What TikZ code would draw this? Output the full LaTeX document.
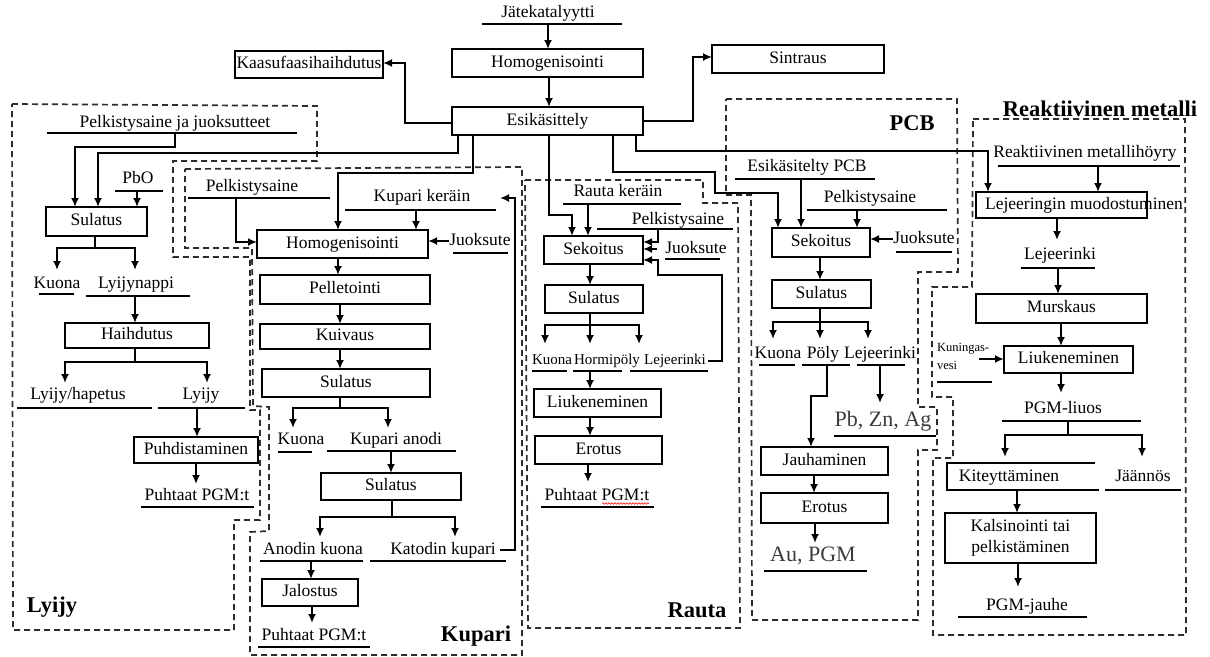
\documentclass[tikz,border=0pt]{standalone}
\usepackage{fontspec}
\setmainfont{Liberation Serif}
\usetikzlibrary{arrows.meta,decorations.pathmorphing}
\newcommand{\mainfs}{\fontsize{17.5}{20}\selectfont}
\definecolor{gtxt}{RGB}{60,60,60}
\definecolor{dashc}{RGB}{45,45,45}
\begin{document}
\begin{tikzpicture}[x=1pt,y=-1pt,
  every node/.style={inner sep=0pt, outer sep=0pt, font=\mainfs},
  box/.style args={#1x#2}{draw, line width=1.8pt, minimum width=#1pt, minimum height=#2pt, text height=12pt, text depth=3.5pt},
  mbox/.style args={#1x#2}{draw, line width=1.8pt, minimum width=#1pt, minimum height=#2pt, align=center, font=\fontsize{17.5}{21}\selectfont},
  ul/.style={fill=black, minimum width=#1pt, minimum height=2.5pt},
  lbl/.style={text height=12pt, text depth=3.5pt},
  smalllbl/.style={font=\fontsize{15}{17}\selectfont, text height=10.5pt, text depth=3pt},
  tinylbl/.style={font=\fontsize{12.5}{18}\selectfont},
  biglbl/.style={font=\fontsize{22}{26}\selectfont, text=gtxt},
  titlelbl/.style={font=\fontsize{22.5}{26}\selectfont\bfseries},
  arr/.style={draw, line width=2.2pt, -{Latex[length=9pt,width=8pt]}},
  ln/.style={draw, line width=2.2pt},
  region/.style={draw=dashc, line width=1.7pt, dash pattern=on 6pt off 4pt}]

\fill[white] (0,0) rectangle (1210,656);
\useasboundingbox (0,0) rectangle (1210,656);

% ---------- dashed regions ----------
\draw[region] (12,104) -- (317,106) -- (317,161) -- (173,161) -- (173,257) -- (250,257) -- (250,410) -- (260,410) -- (260,520) -- (234,520) -- (234,630) -- (13,630) -- cycle;
\draw[region] (185,169) -- (522,167) -- (522,655) -- (250,655) -- (250,532) -- (269,531) -- (269,407) -- (253,406) -- (252,248) -- (185,248) -- cycle;
\draw[region] (525,180) -- (703,180) -- (703,203) -- (738,203) -- (740,628) -- (528,628) -- cycle;
\draw[region] (726,99) -- (957,99) -- (958,272) -- (918,272) -- (918,407) -- (937,407) -- (937,450) -- (918,450) -- (918,620) -- (752,620) -- (751,195) -- (726,195) -- cycle;
\draw[region] (973,119) -- (1185,119) -- (1186,635) -- (933,635) -- (933,458) -- (953,458) -- (953,397) -- (932,397) -- (932,287) -- (972,287) -- cycle;

% ---------- top ----------
\node[lbl] (jate) at (548,13) {Jätekatalyytti};
\node[ul=140] (uJate) at (552,24) {};
\node[box=191x28] (hom0) at (547.5,63) {Homogenisointi};
\node[box=191x28] (esi) at (547.5,121) {Esikäsittely};
\node[box=148x27] (kaasu) at (309,64.5) {Kaasufaasihaihdutus};
\node[box=172x28] (sint) at (798,59) {Sintraus};

\draw[arr] (uJate.south -| 548,0) -- (hom0.north -| 548,0);
\draw[arr] (hom0.south -| 549,0) -- (esi.north -| 549,0);
\draw[arr] (esi.west |- 0,123) -| (405,63) -- (kaasu.east |- 0,63);
\draw[arr] (esi.east |- 0,121) -| (693,57) -- (sint.west |- 0,57);

% ---------- Lyijy ----------
\node[lbl] (lPja) at (175,123) {Pelkistysaine ja juoksutteet};
\node[ul=250] (ulPja) at (172,133) {};
\node[lbl] (lPbO) at (138,179) {PbO};
\node[ul=48] (ulPbO) at (139,191) {};
\node[box=101x29] (lsul) at (96.5,221.5) {Sulatus};
\node[lbl] (lKu) at (57,284) {Kuona};
\node[ul=35] (ulKu) at (56.5,294) {};
\node[lbl] (lLn) at (136,284) {Lyijynappi};
\node[ul=104] (ulLn) at (138,296) {};
\node[box=144x25] (lhai) at (137,335.5) {Haihdutus};
\node[lbl] (lLh) at (78,395) {Lyijy/hapetus};
\node[ul=135] (ulLh) at (84.5,408) {};
\node[lbl] (lLy) at (201,395) {Lyijy};
\node[ul=87] (ulLy) at (201.5,408) {};
\node[box=124x26] (lpuh) at (196,450) {Puhdistaminen};
\node[lbl] (lPu) at (197,496) {Puhtaat PGM:t};
\node[ul=113] (ulPu) at (197.5,507) {};
\node[titlelbl] (tLy) at (52,607) {Lyijy};

\draw[arr] (esi.south -| 458,0) |- (98,153) -- (lsul.north -| 98,0);
\draw[arr] (ulPja.south -| 175,0) |- (75,147) -- (lsul.north -| 75,0);
\draw[arr] (ulPbO.south -| 137,0) -- (lsul.north -| 137,0);
\draw[ln] (lsul.south -| 95,0) -- (95,248);
\draw[arr] (95,248) -| (57,270);
\draw[arr] (95,248) -| (135,270);
\draw[arr] (ulLn.south -| 135,0) -- (lhai.north -| 135,0);
\draw[ln] (lhai.south -| 135,0) -- (135,362);
\draw[arr] (135,362) -| (65,383);
\draw[arr] (135,362) -| (207,383);
\draw[arr] (ulLy.south -| 197,0) -- (lpuh.north -| 197,0);
\draw[arr] (lpuh.south -| 196,0) -- (196,484);

% ---------- Kupari ----------
\node[lbl] (kPe) at (252,187) {Pelkistysaine};
\node[ul=142] (ulkPe) at (259,198) {};
\node[lbl] (kKk) at (422,197) {Kupari keräin};
\node[ul=151] (ulkKk) at (420.5,210) {};
\node[box=171x28] (khom) at (342.5,244) {Homogenisointi};
\node[lbl] (kJu) at (480,241) {Juoksute};
\node[ul=55] (ulkJu) at (480.5,253) {};
\node[box=170x29] (kpel) at (345,289.5) {Pelletointi};
\node[box=170x25] (kkui) at (345,336.5) {Kuivaus};
\node[box=168x28] (ksul) at (346,383) {Sulatus};
\node[lbl] (kKu) at (301,440) {Kuona};
\node[ul=34] (ulkKu) at (295,452) {};
\node[lbl] (kKa) at (396,440) {Kupari anodi};
\node[ul=129] (ulkKa) at (391.5,451) {};
\node[box=140x27] (ksul2) at (391,486.5) {Sulatus};
\node[lbl] (kAk) at (313,550) {Anodin kuona};
\node[ul=103] (ulkAk) at (311.5,561) {};
\node[lbl] (kKt) at (443,550) {Katodin kupari};
\node[ul=136] (ulkKt) at (438,561) {};
\node[box=96x27] (kjal) at (310,592.5) {Jalostus};
\node[lbl] (kPu) at (314,636) {Puhtaat PGM:t};
\node[ul=112] (ulkPu) at (314,647) {};
\node[titlelbl] (tKu) at (476,636) {Kupari};

\draw[arr] (esi.south -| 473,0) |- (338,173) -- (khom.north -| 338,0);
\draw[arr] (ulkPe.south -| 236,0) |- (khom.west |- 0,242);
\draw[arr] (ulkKk.south -| 416,0) -- (khom.north -| 416,0);
\draw[arr] (kJu.west) -- (khom.east |- kJu.west);
\draw[arr] (khom.south -| 338,0) -- (kpel.north -| 338,0);
\draw[arr] (kpel.south -| 340,0) -- (kkui.north -| 340,0);
\draw[arr] (kkui.south -| 340,0) -- (ksul.north -| 340,0);
\draw[ln] (ksul.south -| 340,0) -- (340,408);
\draw[arr] (340,408) -| (293,428);
\draw[arr] (340,408) -| (388,428);
\draw[arr] (ulkKa.south -| 391,0) -- (ksul2.north -| 391,0);
\draw[ln] (ksul2.south -| 392,0) -- (392,517);
\draw[arr] (392,517) -| (320,537);
\draw[arr] (392,517) -| (455,537);
\draw[arr] ([xshift=4pt]kKt.east) -| (515,198) -- (500,198);
\draw[arr] (ulkAk.south -| 311,0) -- (kjal.north -| 311,0);
\draw[arr] (kjal.south -| 312,0) -- (312,623);

% ---------- Rauta ----------
\node[lbl] (rRk) at (618,192) {Rauta keräin};
\node[ul=118] (ulrRk) at (622,204) {};
\node[lbl] (rPe) at (678,220) {Pelkistysaine};
\node[ul=136] (ulrPe) at (665,229) {};
\node[lbl] (rJu) at (696,249) {Juoksute};
\node[ul=55] (ulrJu) at (692.5,259) {};
\node[box=99x28] (rsek) at (593.5,250) {Sekoitus};
\node[box=98x28] (rsul) at (594,299) {Sulatus};
\node[smalllbl] (rKu) at (552,361) {Kuona};
\node[ul=35] (ulrKu) at (549.5,371) {};
\node[smalllbl] (rHo) at (607,361) {Hormipöly};
\node[ul=49] (ulrHo) at (597.5,371) {};
\node[smalllbl] (rLe) at (675,361) {Lejeerinki};
\node[ul=78] (ulrLe) at (669,371) {};
\node[box=127x28] (rliu) at (597.5,403) {Liukeneminen};
\node[box=127x28] (rero) at (598.5,450) {Erotus};
\node[lbl] (rPu) at (597,496) {Puhtaat PGM:t};
\node[ul=113] (ulrPu) at (597.5,507) {};
\node[titlelbl] (tRa) at (697,610) {Rauta};

\draw[arr] (esi.south -| 549,0) |- (572,215) -- (rsek.north -| 572,0);
\draw[arr] (ulrRk.south -| 588,0) -- (rsek.north -| 588,0);
\draw[arr] (ulrPe.south -| 658,0) |- (rsek.east |- 0,242);
\draw[arr] ([xshift=-8pt]rJu.west) -- (rsek.east |- rJu.west);
\draw[arr] ([xshift=2pt]rLe.east) -| (722,275) -| (658,260) -- (rsek.east |- 0,260);
\draw[arr] (rsek.south -| 590,0) -- (rsul.north -| 590,0);
\draw[ln] (rsul.south -| 590,0) -- (590,325);
\draw[arr] (590,325) -| (545,344);
\draw[arr] (590,325) -- (590,344);
\draw[arr] (590,325) -| (639,344);
\draw[arr] (ulrHo.south -| 590,0) -- (rliu.north -| 590,0);
\draw[arr] (rliu.south -| 590,0) -- (rero.north -| 590,0);
\draw[arr] (rero.south -| 588,0) -- (588,482);
\draw[red, line width=0.6pt, decorate, decoration={snake, amplitude=0.8pt, segment length=3pt}] (602,503.5) -- (649,503.5);

% ---------- PCB ----------
\node[titlelbl] (tPCB) at (912,123) {PCB};
\node[lbl] (pEs) at (807,167) {Esikäsitelty PCB};
\node[ul=140] (ulpEs) at (805,179) {};
\node[lbl] (pPe) at (870,198) {Pelkistysaine};
\node[ul=140] (ulpPe) at (877,210) {};
\node[box=98x29] (psek) at (821,242.5) {Sekoitus};
\node[lbl] (pJu) at (924,239) {Juoksute};
\node[ul=56] (ulpJu) at (924,252) {};
\node[box=99x28] (psul) at (821.5,294) {Sulatus};
\node[lbl] (pKu) at (778,354) {Kuona};
\node[ul=36] (ulpKu) at (777,365) {};
\node[lbl] (pPo) at (823,354) {Pöly};
\node[ul=48] (ulpPo) at (826,365) {};
\node[lbl] (pLe) at (880,354) {Lejeerinki};
\node[ul=48] (ulpLe) at (881,365) {};
\node[biglbl] (pPb) at (883,421) {Pb, Zn, Ag};
\node[ul=102] (ulpPb) at (885,436) {};
\node[box=127x28] (pjau) at (824.5,461) {Jauhaminen};
\node[box=127x30] (pero) at (824.5,508) {Erotus};
\node[biglbl] (pAu) at (813,556) {Au, PGM};
\node[ul=103] (ulpAu) at (815.5,571) {};

\draw[arr] (esi.south -| 613,0) |- (715,172) |- (778,193) -- (psek.north -| 778,0);
\draw[arr] (ulpEs.south -| 801,0) -- (psek.north -| 801,0);
\draw[arr] (ulpPe.south -| 857,0) -- (psek.north -| 857,0);
\draw[arr] (pJu.west) -- (psek.east |- pJu.west);
\draw[arr] (psek.south -| 820,0) -- (psul.north -| 820,0);
\draw[ln] (psul.south -| 820,0) -- (820,322);
\draw[arr] (820,322) -| (773,339);
\draw[arr] (820,322) -- (820,339);
\draw[arr] (820,322) -| (868,339);
\draw[arr] (ulpPo.south -| 827,0) |- (811,396) -- (pjau.north -| 811,0);
\draw[arr] (ulpLe.south -| 880,0) -- (880,403);
\draw[arr] (pjau.south -| 814,0) -- (pero.north -| 814,0);
\draw[arr] (pero.south -| 815,0) -- (815,543);

% ---------- Reaktiivinen metalli ----------
\node[titlelbl] (tRe) at (1100,109) {Reaktiivinen metalli};
\node[lbl] (eRm) at (1085,153) {Reaktiivinen metallihöyry};
\node[ul=182] (uleRm) at (1089,166) {};
\node[box=171x26] (rlejb) at (1061.5,205) {};
\node[lbl] (eLm) at (1084,205) {Lejeeringin muodostuminen};
\node[lbl] (eLe) at (1060,255) {Lejeerinki};
\node[ul=74] (uleLe) at (1058,268) {};
\node[box=171x29] (rmur) at (1061.5,308.5) {Murskaus};
\node[box=129x27] (rliu2) at (1068.5,359.5) {Liukeneminen};
\node[tinylbl, align=left, anchor=west] (eKv) at (937,356) {Kuningas-\\vesi};
\node[ul=55] (uleKv) at (964.5,382) {};
\coordinate (kvStart) at (979,359);
\node[lbl] (ePl) at (1063,409) {PGM-liuos};
\node[ul=139] (ulePl) at (1071.5,421) {};
\node[lbl] (eKi) at (1009,477) {Kiteyttäminen};
\node[lbl] (eJa) at (1143,477) {Jäännös};
\node[ul=76] (uleJa) at (1143,490) {};
\node[mbox=151x50] (rkal) at (1020.5,538) {Kalsinointi tai\\pelkistäminen};
\node[lbl] (ePj) at (1027,606) {PGM-jauhe};
\node[ul=129] (ulePj) at (1022.5,617) {};

\draw[line width=1.6pt] (1095,463) -- (947,463) -- (947,490);
\draw[line width=2.5pt] (946.2,490) -- (1099,490);

\draw[arr] (esi.south -| 636,0) |- (988,151) -- (rlejb.north -| 988,0);
\draw[arr] (uleRm.south -| 1098,0) -- (rlejb.north -| 1098,0);
\draw[arr] (rlejb.south -| 1057,0) -- (1057,240);
\draw[arr] (uleLe.south -| 1058,0) -- (rmur.north -| 1058,0);
\draw[arr] (rmur.south -| 1061,0) -- (rliu2.north -| 1061,0);
\draw[arr] (kvStart) -- (rliu2.west |- kvStart);
\draw[arr] (rliu2.south -| 1061,0) -- (1061,393);
\draw[ln] (ulePl.south -| 1068,0) -- (1068,435);
\draw[arr] (1068,435) -| (1005,457);
\draw[arr] (1068,435) -| (1142,457);
\draw[arr] (uleJa.south -| 1017,0) -- (rkal.north -| 1017,0);
\draw[arr] (rkal.south -| 1018,0) -- (1018,587);

\end{tikzpicture}
\end{document}
